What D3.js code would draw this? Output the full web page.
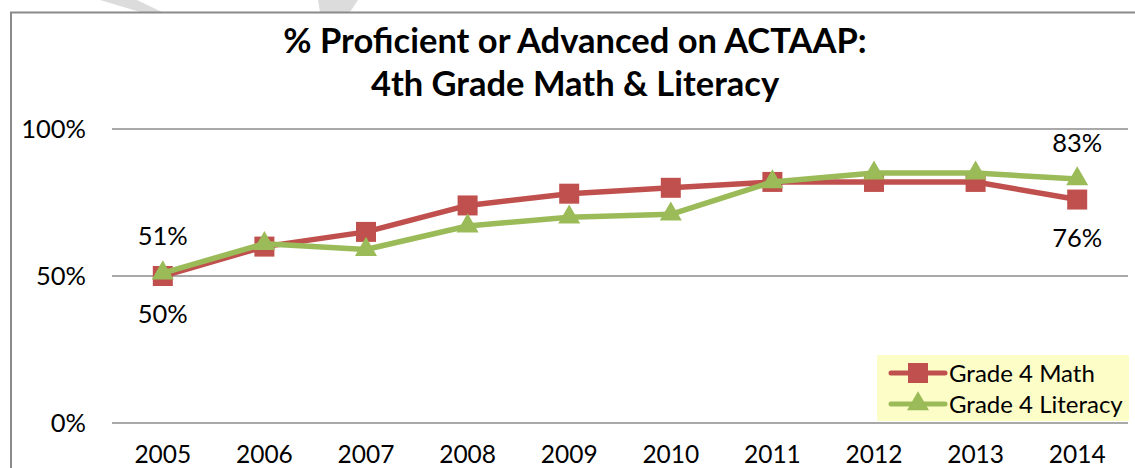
<!DOCTYPE html>
<html><head><meta charset="utf-8">
<script src="https://cdn.jsdelivr.net/npm/d3@7"></script>
<style>body{margin:0;background:#fff}svg{display:block}</style>
</head><body>
<svg id="c" width="1135" height="468"></svg>
<script>
const years = ["2005","2006","2007","2008","2009","2010","2011","2012","2013","2014"];
const mathValues = [50,60,65,74,78,80,82,82,82,76];
const literacyValues = [51,61,59,67,70,71,82,85,85,83];
const yTicks = [0,50,100];
const seriesNames = ["Grade 4 Math","Grade 4 Literacy"];
const titleLines = ["% Proficient or Advanced on ACTAAP:","4th Grade Math & Literacy"];

const font = "Lato, 'Open Sans', sans-serif";
const fs = 25.5;
const svg = d3.select("#c");
const red = "#C0504D", green = "#9BBB59";

// watermark fragments
svg.append("polygon").attr("points","100,0 137,0 162,12 140,12").attr("fill","#dcdcdc");
svg.append("polygon").attr("points","318,0 358,0 350,12 320,12").attr("fill","#dcdcdc");

// border
svg.append("path").attr("d","M11,470 V12.5 H1140").attr("fill","none").attr("stroke","#8a8a8a").attr("stroke-width",2);

const x = d3.scaleBand().domain(years).range([112,1128]);
const y = d3.scaleLinear().domain([0,100]).range([423,129]);

// gridlines
svg.append("g").selectAll("line").data(yTicks).join("line")
  .attr("x1",112).attr("x2",1128).attr("y1",d=>y(d)).attr("y2",d=>y(d))
  .attr("stroke","#8c8c8c").attr("stroke-width",1.6);

// y axis
const yAxis = d3.axisLeft(y).tickValues(yTicks).tickFormat(d=>d+"%").tickSize(0).tickPadding(0);
const gy = svg.append("g").attr("transform","translate(86,0)").call(yAxis);
gy.select(".domain").remove();
gy.selectAll("text").attr("font-family",font).attr("font-size",fs).attr("fill","#000");

// x axis
const xAxis = d3.axisBottom(x).tickSize(0).tickPadding(0);
const gx = svg.append("g").attr("transform","translate(0,446)").call(xAxis);
gx.select(".domain").remove();
gx.selectAll("text").attr("font-family",font).attr("font-size",24.5).attr("fill","#000").attr("dy","0.71em");

// title
svg.append("g").selectAll("text").data(titleLines).join("text")
  .attr("x",575).attr("y",(d,i)=>53+i*43).attr("text-anchor","middle")
  .attr("font-family",font).attr("font-weight","bold").attr("font-size",34.5).attr("fill","#000")
  .text(d=>d);

const cx = d=>x(d)+x.bandwidth()/2;
const line = d3.line().x(d=>cx(d[0])).y(d=>y(d[1]));
const mathData = years.map((yr,i)=>[yr,mathValues[i]]);
const litData = years.map((yr,i)=>[yr,literacyValues[i]]);

svg.append("path").datum(mathData).attr("d",line).attr("fill","none").attr("stroke",red).attr("stroke-width",5.5).attr("stroke-linejoin","round");
svg.append("g").selectAll("rect").data(mathData).join("rect")
  .attr("x",d=>cx(d[0])-10).attr("y",d=>y(d[1])-10).attr("width",20).attr("height",20).attr("fill",red);

svg.append("path").datum(litData).attr("d",line).attr("fill","none").attr("stroke",green).attr("stroke-width",5.5).attr("stroke-linejoin","round");
const tri = d3.symbol().type(d3.symbolTriangle).size(210);
svg.append("g").selectAll("path").data(litData).join("path")
  .attr("d",tri).attr("transform",d=>`translate(${cx(d[0])},${y(d[1])})`).attr("fill",green);

// data labels (first and last)
const labels = [
  {d:litData[0], dy:-28},
  {d:mathData[0], dy:47},
  {d:litData[9], dy:-27},
  {d:mathData[9], dy:47}
];
svg.append("g").selectAll("text").data(labels).join("text")
  .attr("x",l=>cx(l.d[0])).attr("y",l=>y(l.d[1])+l.dy).attr("text-anchor","middle")
  .attr("font-family",font).attr("font-size",fs).attr("fill","#000")
  .text(l=>l.d[1]+"%");

// legend
const lg = svg.append("g");
lg.append("rect").attr("x",877).attr("y",355).attr("width",252).attr("height",66).attr("fill","#FDFDC8");
const legendItems = [{name:seriesNames[0],color:red,type:"sq"},{name:seriesNames[1],color:green,type:"tri"}];
legendItems.forEach((it,i)=>{
  const yy = 373 + i*31;
  lg.append("line").attr("x1",891).attr("x2",945).attr("y1",yy).attr("y2",yy).attr("stroke",it.color).attr("stroke-width",5).attr("stroke-linecap","round");
  if(it.type==="sq") lg.append("rect").attr("x",908).attr("y",yy-10).attr("width",20).attr("height",20).attr("fill",it.color);
  else lg.append("path").attr("d",tri).attr("transform",`translate(918,${yy})`).attr("fill",it.color);
  lg.append("text").attr("x",949).attr("y",yy+9).attr("font-family",font).attr("font-size",24).attr("fill","#000").text(it.name);
});
</script>
</body></html>
